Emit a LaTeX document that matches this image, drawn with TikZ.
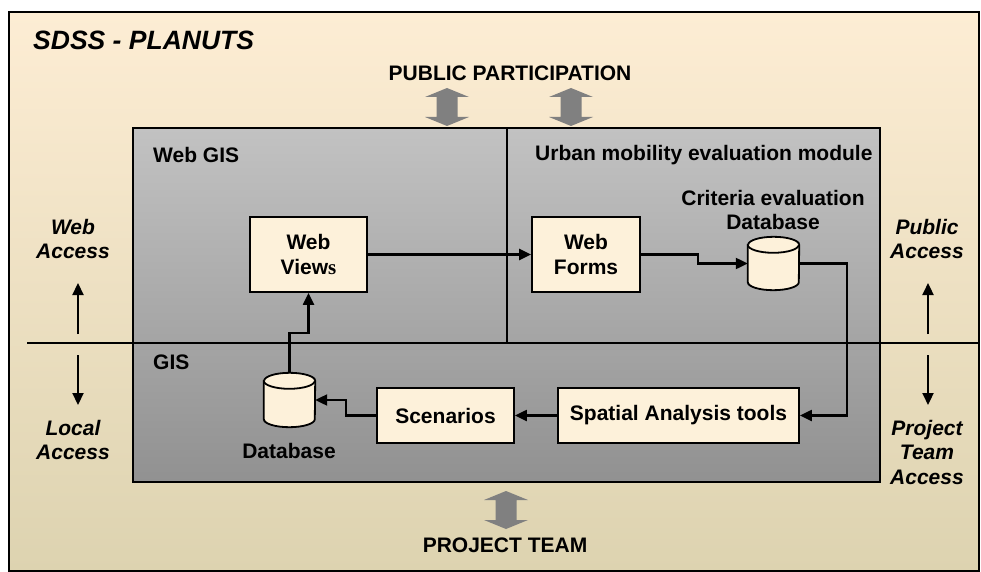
\documentclass[tikz,border=0pt]{standalone}
\usepackage{fontspec}
\setmainfont{Liberation Sans}
\newfontfamily\serifface{Liberation Serif}
\usetikzlibrary{arrows.meta,calc}
\definecolor{beigetop}{RGB}{253,237,212}
\definecolor{beigebot}{RGB}{221,211,176}
\definecolor{graytop}{RGB}{194,194,194}
\definecolor{graybot}{RGB}{145,145,145}
\definecolor{boxfill}{RGB}{253,241,218}
\definecolor{arrowgray}{RGB}{128,128,128}
\newcommand\drawcyl[1]{%
  \filldraw[cylstyle] ($(#1.north west)+(0,-8)$) -- ($(#1.south west)+(0,8)$)
    arc[start angle=180,end angle=360,x radius=25.5,y radius=8]
    -- ($(#1.north east)+(0,-8)$)
    arc[start angle=0,end angle=180,x radius=25.5,y radius=8] -- cycle;
  \draw[cylstyle] ($(#1.north west)+(0,-8)$)
    arc[start angle=180,end angle=360,x radius=25.5,y radius=8];}
\begin{document}
\begin{tikzpicture}[x=1pt,y=1pt,
  lbl/.style={inner sep=0, align=center, font=\fontsize{21}{24.5}\selectfont\bfseries},
  ital/.style={inner sep=0, align=center, font=\fontsize{21}{24.5}\selectfont\bfseries\itshape},
  box/.style={draw, line width=1.8, fill=boxfill, inner sep=0, align=center,
    font=\fontsize{21}{24.5}\selectfont\bfseries},
  cylstyle/.style={line width=1.8, fill=boxfill},
  conn/.style={line width=2.2, -{Triangle[length=12pt,width=11pt]}},
  rule/.style={line width=1.8},
  dblarrow/.pic={\fill[arrowgray] (0,0) -- (22,-9) -- (10.5,-9) -- (10.5,-29) -- (22,-29)
     -- (0,-38) -- (-22,-29) -- (-10.5,-29) -- (-10.5,-9) -- (-22,-9) -- cycle;}
]
\useasboundingbox (0,0) rectangle (981,-572);
\clip (0,0) rectangle (981,-572);
% background frame
\shade[top color=beigetop, bottom color=beigebot] (9,-12) rectangle (979,-571);
\draw[rule] (9,-12) rectangle (979,-571);
% title
\node[anchor=west, inner sep=0, font=\fontsize{26.5}{30}\selectfont\bfseries\itshape] (title) at (33,-40) {SDSS - PLANUTS};
% inner panels
\shade[top color=graytop, bottom color=graybot] (133,-128) rectangle (880,-482);
\draw[rule] (133,-128) rectangle (880,-482);
\draw[rule] (507,-128) -- (507,-343);
\draw[rule] (27,-343) -- (979,-343);
% participation arrows
\node[lbl] (pp) at (510,-73) {PUBLIC PARTICIPATION};
\pic at (447,-88) {dblarrow};
\pic at (571,-88) {dblarrow};
\pic at (506,-491) {dblarrow};
\node[lbl] (pt) at (505,-545) {PROJECT TEAM};
% section labels
\node[lbl, anchor=west] (webgis) at (153,-155) {Web GIS};
\node[lbl, anchor=west] (urban) at (535,-155) {Urban mobility evaluation module};
\node[lbl, anchor=west] (gis) at (153,-362) {GIS};
% side labels
\node[ital] (webacc) at (73,-239) {Web\\Access};
\node[ital] (locacc) at (73,-440) {Local\\Access};
\node[ital] (pubacc) at (927,-239) {Public\\Access};
\node[ital] (ptacc) at (927,-452) {Project\\Team\\Access};
\coordinate (la) at (78,-334);
\coordinate (lb) at (78,-283);
\coordinate (lc) at (78,-355);
\coordinate (ld) at (78,-405);
\coordinate (ra) at (928,-334);
\coordinate (rb) at (928,-283);
\coordinate (rc) at (928,-355);
\coordinate (rd) at (928,-405);
\draw[conn] (la) -- (lb);
\draw[conn] (lc) -- (ld);
\draw[conn] (ra) -- (rb);
\draw[conn] (rc) -- (rd);
% boxes
\node[box, minimum width=117, minimum height=75] (wv) at (308.5,-254.5) {Web\\View{\serifface s}};
\node[box, minimum width=108, minimum height=75] (wf) at (586,-254.5) {Web\\Forms};
\node[box, minimum width=241, minimum height=55] (sat) at (678.5,-415.5) {Spatial Analysis tools};
\node[box, minimum width=137, minimum height=55] (scen) at (445.5,-415.5) {Scenarios};
% cylinders
\node[inner sep=0, minimum width=51, minimum height=53] (crit) at (773.5,-263.5) {};
\drawcyl{crit}
\node[lbl] (critlbl) at (773,-210) {Criteria evaluation\\Database};
\node[inner sep=0, minimum width=51, minimum height=54] (db) at (289.5,-400) {};
\drawcyl{db}
\node[lbl] (dblbl) at (289,-451) {Database};
% connectors
\draw[conn] (wv.east) -- (wf.west);
\draw[conn] (wf.east) -- ++(57,0) |- (crit.west);
\draw[conn] (crit.east) -- ++(48,0) |- (sat.east);
\draw[conn] (sat.west) -- (scen.east);
\draw[conn] (scen.west) -- ++(-30,0) |- (db.east);
\draw[conn] (db.north) -- ++(0,40) -| (wv.south);
\end{tikzpicture}
\end{document}
